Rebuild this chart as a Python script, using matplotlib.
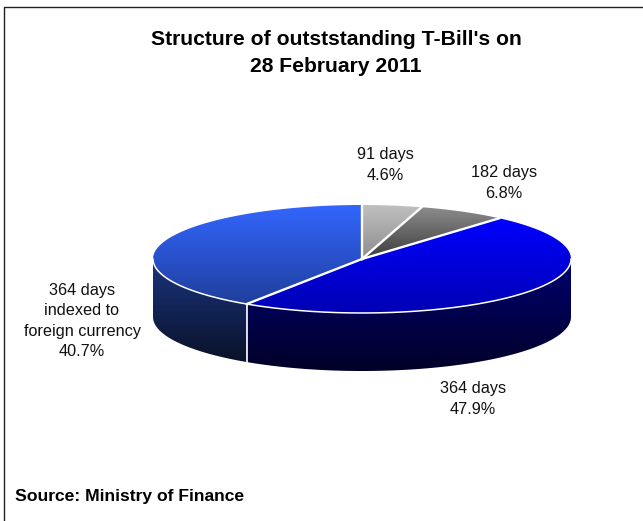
import numpy as np
import matplotlib
matplotlib.use("Agg")
import matplotlib.pyplot as plt
from matplotlib.colors import LinearSegmentedColormap
from matplotlib.patches import Polygon

plt.rcParams['font.family'] = ['Liberation Sans', 'DejaVu Sans']

labels = ['91 days\n4.6%', '182 days\n6.8%', '364 days\n47.9%',
          '364 days\nindexed to\nforeign currency\n40.7%']
shares = [4.6, 6.8, 47.9, 40.7]
top_colors = [('#c0c0c0', '#8c8c8c'), ('#8c8c8c', '#3c3c3c'),
              ('#0000ff', '#0000b4'), ('#3366ff', '#1f3f9c')]
side_colors = [None, None, ('#000070', '#000028'), ('#1a3480', '#0a1228')]
label_pos = [(385, 165), (504, 183), (473, 399), (82, 321)]

W, H = 643, 521
cx, cy, rx, ry, depth = 362, 259, 209, 54, 58

fig = plt.figure(figsize=(W / 100, H / 100), dpi=100)
ax = fig.add_axes([0, 0, 1, 1])
ax.set_xlim(0, W)
ax.set_ylim(H, 0)
ax.axis('off')


def rim(a0, a1, n=200):
    # angles clockwise from 12 o'clock, in radians
    a = np.linspace(a0, a1, n)
    return cx + rx * np.sin(a), cy - ry * np.cos(a)


def fill_gradient(xs, ys, colors, zorder):
    pts = np.column_stack([xs, ys])
    patch = Polygon(pts, closed=True, fc='none', ec='none', zorder=zorder)
    ax.add_patch(patch)
    cmap = LinearSegmentedColormap.from_list('g', colors)
    grad = np.linspace(0, 1, 256).reshape(-1, 1)
    im = ax.imshow(grad, cmap=cmap, aspect='auto', zorder=zorder,
                   extent=(xs.min(), xs.max(), ys.max(), ys.min()))
    im.set_clip_path(patch)


edges = np.concatenate([[0], np.cumsum(shares)]) / sum(shares) * 2 * np.pi

# side walls first, only the part of the rim facing the viewer
for i in range(len(shares)):
    if side_colors[i] is None:
        continue
    a0 = max(edges[i], np.pi / 2)
    a1 = min(edges[i + 1], 3 * np.pi / 2)
    x, y = rim(a0, a1)
    xs = np.concatenate([x, x[::-1]])
    ys = np.concatenate([y, y[::-1] + depth])
    fill_gradient(xs, ys, side_colors[i], 2)

# top faces
for i in range(len(shares)):
    x, y = rim(edges[i], edges[i + 1])
    xs = np.concatenate([[cx], x])
    ys = np.concatenate([[cy], y])
    fill_gradient(xs, ys, top_colors[i], 3)

# white separators
for e in edges[:-1]:
    x, y = rim(e, e, 2)
    ax.plot([cx, x[0]], [cy, y[0]], color='white', lw=1.7, zorder=4)
    if np.pi / 2 < e < 3 * np.pi / 2:
        ax.plot([x[0], x[0]], [y[0], y[0] + depth], color='white', lw=1.2, zorder=4)
x, y = rim(np.pi / 2, 3 * np.pi / 2)
ax.plot(x, y, color='white', lw=1.1, zorder=4)

for lab, (lx, ly) in zip(labels, label_pos):
    ax.text(lx, ly, lab, ha='center', va='center', fontsize=11.7,
            linespacing=1.47, color='#111111', zorder=5)

ax.text(336, 53, "Structure of outststanding T-Bill's on\n28 February 2011",
        ha='center', va='center', fontsize=15.2, fontweight='bold',
        linespacing=1.5)
ax.text(15, 497, 'Source: Ministry of Finance', ha='left', va='center',
        fontsize=12.6, fontweight='bold')

# frame: only the left and top edges fall inside the crop
ax.plot([3.5, 3.5, W], [H, 6.5, 6.5], color='#222222', lw=1, zorder=6)
ax.set_xlim(0, W)
ax.set_ylim(H, 0)

fig.savefig('out.png', dpi=100)
